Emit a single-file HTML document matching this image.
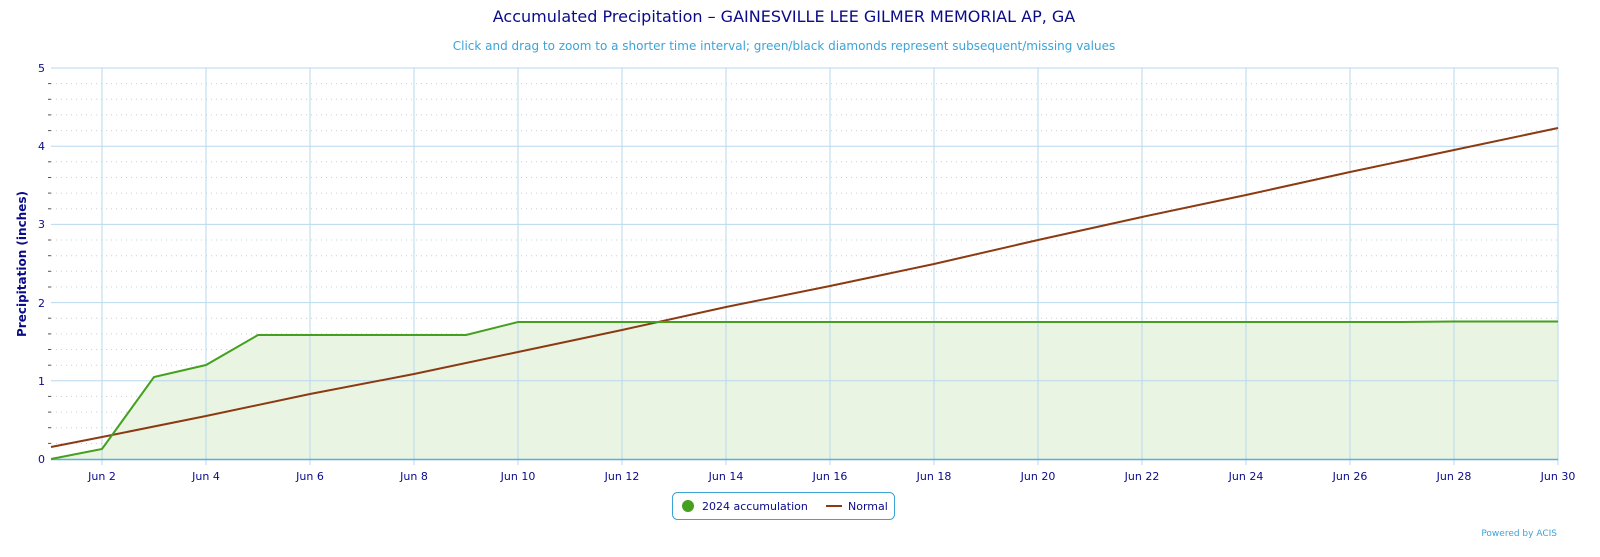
<!DOCTYPE html>
<html><head><meta charset="utf-8"><style>
body{margin:0;background:#fff;}
text{font-family:"DejaVu Sans","Liberation Sans",sans-serif;}
</style></head><body>
<svg width="1600" height="552" xmlns="http://www.w3.org/2000/svg">
<text x="784" y="22" text-anchor="middle" font-size="16" fill="#0b0b8a">Accumulated Precipitation – GAINESVILLE LEE GILMER MEMORIAL AP, GA</text>
<text x="784" y="50" text-anchor="middle" font-size="12" fill="#3ba3d8">Click and drag to zoom to a shorter time interval; green/black diamonds represent subsequent/missing values</text>
<g stroke="#ccd" stroke-dasharray="1,4" stroke-width="1">
<line x1="51" x2="1558" y1="83.6" y2="83.6"/><line x1="51" x2="1558" y1="99.3" y2="99.3"/><line x1="51" x2="1558" y1="114.9" y2="114.9"/><line x1="51" x2="1558" y1="130.6" y2="130.6"/>
<line x1="51" x2="1558" y1="161.8" y2="161.8"/><line x1="51" x2="1558" y1="177.5" y2="177.5"/><line x1="51" x2="1558" y1="193.1" y2="193.1"/><line x1="51" x2="1558" y1="208.8" y2="208.8"/>
<line x1="51" x2="1558" y1="240" y2="240"/><line x1="51" x2="1558" y1="255.7" y2="255.7"/><line x1="51" x2="1558" y1="271.3" y2="271.3"/><line x1="51" x2="1558" y1="287" y2="287"/>
<line x1="51" x2="1558" y1="318.2" y2="318.2"/><line x1="51" x2="1558" y1="333.9" y2="333.9"/><line x1="51" x2="1558" y1="349.5" y2="349.5"/><line x1="51" x2="1558" y1="365.2" y2="365.2"/>
<line x1="51" x2="1558" y1="396.4" y2="396.4"/><line x1="51" x2="1558" y1="412.1" y2="412.1"/><line x1="51" x2="1558" y1="427.7" y2="427.7"/><line x1="51" x2="1558" y1="443.4" y2="443.4"/>
</g>
<polygon fill="#e9f4e3" points="51,459 102,449 154,377 206,365 258,335 466,335 518,322 1402,322 1454,321.5 1558,321.5 1558,459"/>
<g stroke="#b8d8ee" stroke-width="1">
<line x1="51" x2="1558" y1="68" y2="68"/><line x1="51" x2="1558" y1="146.2" y2="146.2"/><line x1="51" x2="1558" y1="224.4" y2="224.4"/><line x1="51" x2="1558" y1="302.6" y2="302.6"/><line x1="51" x2="1558" y1="380.8" y2="380.8"/>
<line x1="102" x2="102" y1="68" y2="465"/><line x1="206" x2="206" y1="68" y2="465"/><line x1="310" x2="310" y1="68" y2="465"/><line x1="414" x2="414" y1="68" y2="465"/><line x1="518" x2="518" y1="68" y2="465"/><line x1="622" x2="622" y1="68" y2="465"/><line x1="726" x2="726" y1="68" y2="465"/><line x1="830" x2="830" y1="68" y2="465"/><line x1="934" x2="934" y1="68" y2="465"/><line x1="1038" x2="1038" y1="68" y2="465"/><line x1="1142" x2="1142" y1="68" y2="465"/><line x1="1246" x2="1246" y1="68" y2="465"/><line x1="1350" x2="1350" y1="68" y2="465"/><line x1="1454" x2="1454" y1="68" y2="465"/><line x1="1558" x2="1558" y1="68" y2="465"/>
</g>
<line x1="51" x2="1558" y1="459.5" y2="459.5" stroke="#5ab0d8" stroke-width="1.5"/>
<g stroke="#555" stroke-width="1">
<line x1="48" x2="51" y1="83.6" y2="83.6"/><line x1="48" x2="51" y1="99.3" y2="99.3"/><line x1="48" x2="51" y1="114.9" y2="114.9"/><line x1="48" x2="51" y1="130.6" y2="130.6"/><line x1="48" x2="51" y1="161.8" y2="161.8"/><line x1="48" x2="51" y1="177.5" y2="177.5"/><line x1="48" x2="51" y1="193.1" y2="193.1"/><line x1="48" x2="51" y1="208.8" y2="208.8"/><line x1="48" x2="51" y1="240" y2="240"/><line x1="48" x2="51" y1="255.7" y2="255.7"/><line x1="48" x2="51" y1="271.3" y2="271.3"/><line x1="48" x2="51" y1="287" y2="287"/><line x1="48" x2="51" y1="318.2" y2="318.2"/><line x1="48" x2="51" y1="333.9" y2="333.9"/><line x1="48" x2="51" y1="349.5" y2="349.5"/><line x1="48" x2="51" y1="365.2" y2="365.2"/><line x1="48" x2="51" y1="396.4" y2="396.4"/><line x1="48" x2="51" y1="412.1" y2="412.1"/><line x1="48" x2="51" y1="427.7" y2="427.7"/><line x1="48" x2="51" y1="443.4" y2="443.4"/>
</g>
<polyline fill="none" stroke="#8b3a12" stroke-width="2" points="51,447 102,437 206,416 310,394 414,374 518,352 622,330 726,307 830,286 934,264 1038,240 1142,217 1246,195 1350,172 1454,150 1558,128"/>
<polyline fill="none" stroke="#44a01e" stroke-width="2" points="51,459 102,449 154,377 206,365 258,335 466,335 518,322 1402,322 1454,321.5 1558,321.5"/>
<g font-size="11" fill="#0b0b8a" text-anchor="end">
<text x="45" y="72">5</text><text x="45" y="150">4</text><text x="45" y="228">3</text><text x="45" y="307">2</text><text x="45" y="385">1</text><text x="45" y="463">0</text>
</g>
<g font-size="11" fill="#0b0b8a" text-anchor="middle">
<text x="102" y="480">Jun 2</text><text x="206" y="480">Jun 4</text><text x="310" y="480">Jun 6</text><text x="414" y="480">Jun 8</text><text x="518" y="480">Jun 10</text><text x="622" y="480">Jun 12</text><text x="726" y="480">Jun 14</text><text x="830" y="480">Jun 16</text><text x="934" y="480">Jun 18</text><text x="1038" y="480">Jun 20</text><text x="1142" y="480">Jun 22</text><text x="1246" y="480">Jun 24</text><text x="1350" y="480">Jun 26</text><text x="1454" y="480">Jun 28</text><text x="1558" y="480">Jun 30</text>
</g>
<text transform="translate(26,264) rotate(-90)" text-anchor="middle" font-size="12" font-weight="bold" fill="#0b0b8a">Precipitation (inches)</text>
<rect x="672.5" y="492.5" width="222" height="27" rx="5" fill="#fff" stroke="#3ba3d8"/>
<circle cx="688" cy="506" r="6" fill="#44a01e"/>
<text x="702" y="510" font-size="11" fill="#0b0b8a">2024 accumulation</text>
<line x1="826" x2="842" y1="506" y2="506" stroke="#8b3a12" stroke-width="2"/>
<text x="848" y="510" font-size="11" fill="#0b0b8a">Normal</text>
<text x="1557" y="536" text-anchor="end" font-size="9" fill="#3ba3d8">Powered by ACIS</text>
</svg>
</body></html>
